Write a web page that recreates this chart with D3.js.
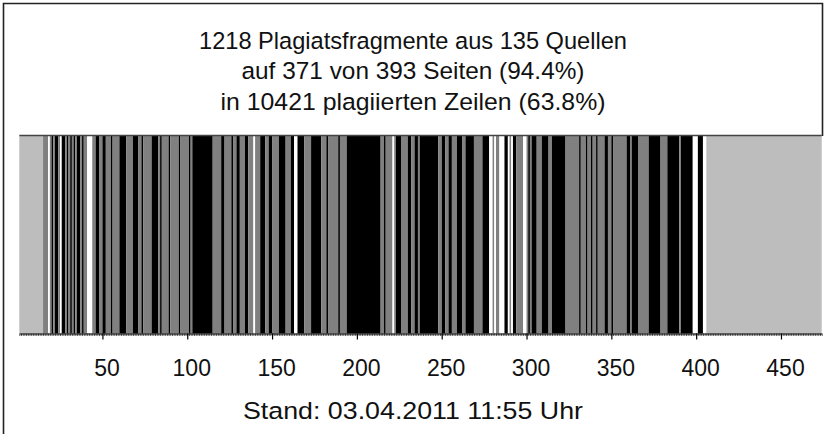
<!DOCTYPE html>
<html><head><meta charset="utf-8">
<script src="https://cdn.jsdelivr.net/npm/d3@7"></script>
<style>html,body{margin:0;padding:0;background:#fff;} svg{display:block;}</style>
</head><body>
<svg id="chart" width="828" height="434"></svg>
<script>
// ---- data ----
const titleLines = [
  "1218 Plagiatsfragmente aus 135 Quellen",
  "auf 371 von 393 Seiten (94.4%)",
  "in 10421 plagiierten Zeilen (63.8%)"
];
const footnote = "Stand: 03.04.2011 11:55 Uhr";
const tickValues = [50, 100, 150, 200, 250, 300, 350, 400, 450];
// one code per page: L = not counted, B = plagiarism (black), G = plagiarism (grey), W = none
const pageCodes = [
  "LLLLLLLLLL", "LLLLGGGWGB", "GBBGWBBGBG", "BGBGBBGBGG", "WWWGGBBGGB",
  "BGGGBGGGGB", "BBBGGGGBBB", "GGBGGGGGBB", "BBGBGGGGBG", "GGGGBGGGGG",
  "BGBBBBBBBB", "BBBBGGGGGB", "BGGGGBGGBB", "GGGBBGGGWG", "GGBBBGGBBG",
  "GGGBBBBGGG", "BBWWBBBBGG", "GGBBBBBBGG", "GBGGGGGGBG", "GGGBBBBBBB",
  "BBBBBBBBBB", "BBBGGBGGGG", "WGBBBGGGGB", "BGGBBGBBBB", "BBBBBBBGGB",
  "BGGBBGGGBB", "BGGBBBBBGG", "GGGBBBBWWG", "WGGWWWBBWG", "WBBGGGGWWG",
  "BGBBBGGGBB", "BBGGBBBBBB", "BBGGGGGGGG", "BGGGBGGBGG", "BGGGGBBGGB",
  "GGGGGGGGBB", "GBBBBGGGGG", "GBBBBBBBGG", "GGBBBBBBBG", "BBBBBBBWWW",
  "BBBWWLLLLL", "LLLLLLLLLL", "LLLLLLLLLL", "LLLLLLLLLL", "LLLLLLLLLL",
  "LLLLLLLLLL", "LLLLLLLLLLLLL"
];
const codeColors = { L: "#bdbdbd", G: "#808080", B: "#000000", W: "#ffffff" };

// ---- build ----
const FONT = "'Liberation Sans', Arial, sans-serif";
const pages = pageCodes.join("").split("").map((c, i) => ({ page: i + 1, code: c }));
const runs = [];
pages.forEach(p => {
  const last = runs[runs.length - 1];
  if (last && last.code === p.code) last.end = p.page + 1;
  else runs.push({ code: p.code, start: p.page, end: p.page + 1 });
});

const svg = d3.select("#chart");
const W = 828, H = 434;
const plot = { left: 19.3, right: 821.7, top: 136, bottom: 333.5 };

svg.append("rect").attr("width", W).attr("height", H).attr("fill", "#fff");

const x = d3.scaleLinear().domain([1, pages.length + 1]).range([plot.left, plot.right]);

svg.append("g").selectAll("rect").data(runs).join("rect")
  .attr("x", d => x(d.start))
  .attr("width", d => x(d.end) - x(d.start))
  .attr("y", plot.top)
  .attr("height", plot.bottom - plot.top)
  .attr("fill", d => codeColors[d.code]);

svg.append("line").attr("x1", plot.left).attr("x2", plot.right)
  .attr("y1", plot.top - 0.5).attr("y2", plot.top - 0.5)
  .attr("stroke", "#444").attr("stroke-width", 1.6);

// minor ticks (every page)
const minor = svg.append("g").attr("transform", `translate(0,${plot.bottom})`)
  .call(d3.axisBottom(x).tickValues(d3.range(1, pages.length + 2)).tickSize(2.5).tickFormat(""));
minor.select(".domain").remove();
minor.selectAll(".tick line").attr("stroke", "#333").attr("stroke-width", 0.8);

// major axis
const major = svg.append("g").attr("transform", `translate(0,${plot.bottom})`)
  .call(d3.axisBottom(x).tickValues(tickValues).tickSize(6).tickSizeOuter(0).tickPadding(0));
major.select(".domain").attr("stroke", "#000").attr("stroke-width", 1.2);
major.selectAll(".tick line").attr("stroke", "#000").attr("stroke-width", 1.2);
major.selectAll(".tick text")
  .attr("font-family", FONT).attr("font-size", 23).attr("fill", "#111")
  .attr("dx", 4).attr("y", 42.5).attr("dy", 0);

// title
const titleWidths = [428, 343, 385];
svg.append("g").selectAll("text").data(titleLines).join("text")
  .attr("x", 413).attr("y", (d, i) => 48.5 + i * 30.5)
  .attr("text-anchor", "middle")
  .attr("font-family", FONT).attr("font-size", 24.5).attr("fill", "#111")
  .attr("textLength", (d, i) => titleWidths[i]).attr("lengthAdjust", "spacingAndGlyphs")
  .text(d => d);

svg.append("text").attr("x", 413).attr("y", 419)
  .attr("text-anchor", "middle")
  .attr("font-family", FONT).attr("font-size", 24.5).attr("fill", "#111")
  .attr("textLength", 340).attr("lengthAdjust", "spacingAndGlyphs")
  .text(footnote);

// frame
svg.append("path")
  .attr("d", `M3.5,${H} V3.5 H822.5 V${plot.top}`)
  .attr("fill", "none").attr("stroke", "#222").attr("stroke-width", 1.6);
</script>
</body></html>
